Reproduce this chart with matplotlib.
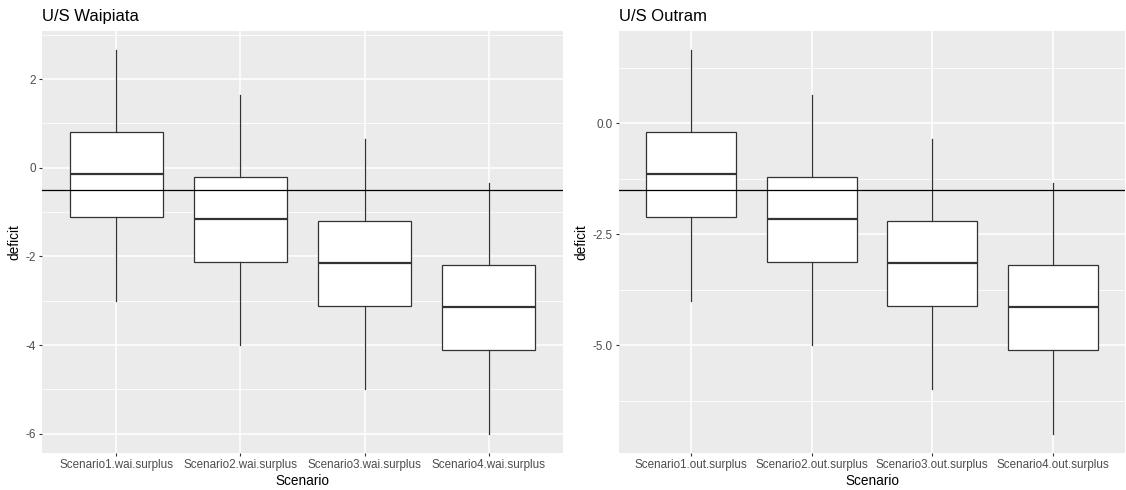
import matplotlib
matplotlib.use("Agg")
import matplotlib.pyplot as plt

plt.rcParams['font.family'] = ['Liberation Sans', 'DejaVu Sans']

# box summaries per scenario: lower whisker, q1, median, q3, upper whisker
wai_labels = ["Scenario1.wai.surplus", "Scenario2.wai.surplus",
              "Scenario3.wai.surplus", "Scenario4.wai.surplus"]
wai_low = [-3.0, -4.0, -5.0, -6.0]
wai_q1 = [-1.12, -2.12, -3.12, -4.12]
wai_med = [-0.15, -1.15, -2.15, -3.15]
wai_q3 = [0.80, -0.20, -1.20, -2.20]
wai_high = [2.65, 1.65, 0.65, -0.35]
wai_ref = -0.5

out_labels = ["Scenario1.out.surplus", "Scenario2.out.surplus",
              "Scenario3.out.surplus", "Scenario4.out.surplus"]
out_low = [-4.0, -5.0, -6.0, -7.0]
out_q1 = [-2.12, -3.12, -4.12, -5.12]
out_med = [-1.15, -2.15, -3.15, -4.15]
out_q3 = [-0.20, -1.20, -2.20, -3.20]
out_high = [1.65, 0.65, -0.35, -1.35]
out_ref = -1.5

W, H = 1126, 490
fig = plt.figure(figsize=(W / 100, H / 100), dpi=100)
ax1 = fig.add_axes([42 / W, 37 / H, 521 / W, 422 / H])
ax2 = fig.add_axes([619 / W, 37 / H, 506 / W, 422 / H])


def draw_panel(ax, title, labels, low, q1, med, q3, high, ref, major, minor):
    stats = [dict(whislo=a, q1=b, med=c, q3=d, whishi=e, fliers=[])
             for a, b, c, d, e in zip(low, q1, med, q3, high)]
    pos = list(range(1, len(labels) + 1))
    ax.set_facecolor("#EBEBEB")
    for v in minor:
        ax.axhline(v, color="white", lw=0.6, zorder=0)
    for v in major:
        ax.axhline(v, color="white", lw=1.1, zorder=0)
    for p in pos:
        ax.axvline(p, color="white", lw=1.1, zorder=0)
    ax.bxp(stats, positions=pos, widths=0.75, showcaps=False, patch_artist=True,
           boxprops=dict(facecolor="white", edgecolor="#333333", lw=0.9),
           whiskerprops=dict(color="#333333", lw=0.9),
           medianprops=dict(color="#333333", lw=1.6), zorder=2)
    ax.axhline(ref, color="black", lw=0.9, zorder=3)

    span = max(high) - min(low)
    ax.set_ylim(min(low) - 0.05 * span, max(high) + 0.05 * span)
    ax.set_xlim(0.4, len(labels) + 0.6)
    ax.set_yticks(major)
    ax.set_xticks(pos)
    ax.set_xticklabels(labels)
    for s in ax.spines.values():
        s.set_visible(False)
    ax.tick_params(length=2.5, width=0.8, color="#333333", labelcolor="#4D4D4D",
                   labelsize=8.4, pad=2)
    ax.set_xlabel("Scenario", fontsize=9.8, labelpad=2)
    ax.set_ylabel("deficit", fontsize=9.8, labelpad=3)
    ax.set_title(title, loc="left", fontsize=12, pad=7)


draw_panel(ax1, "U/S Waipiata", wai_labels, wai_low, wai_q1, wai_med, wai_q3,
           wai_high, wai_ref, [2, 0, -2, -4, -6], [3, 1, -1, -3, -5])
ax1.set_yticklabels(["2", "0", "-2", "-4", "-6"])
draw_panel(ax2, "U/S Outram", out_labels, out_low, out_q1, out_med, out_q3,
           out_high, out_ref, [0, -2.5, -5], [1.25, -1.25, -3.75, -6.25])
ax2.set_yticklabels(["0.0", "-2.5", "-5.0"])

fig.savefig("out.png", dpi=100)
